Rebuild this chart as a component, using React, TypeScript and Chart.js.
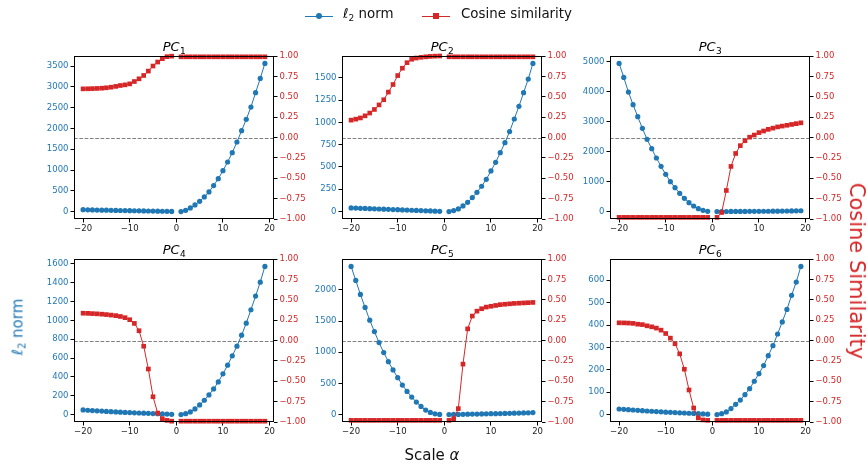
import React, { useEffect, useRef } from "react";
import { Chart, registerables } from "chart.js";

Chart.register(...registerables);

// ---------- data ----------
const ALPHA = [-20, -19, -18, -17, -16, -15, -14, -13, -12, -11, -10, -9, -8, -7, -6, -5, -4, -3, -2, -1, 0, 1, 2, 3, 4, 5, 6, 7, 8, 9, 10, 11, 12, 13, 14, 15, 16, 17, 18, 19];

const PC1_NORM = [45, 42, 40, 37, 35, 33, 30, 28, 26, 24, 22, 20, 18, 16, 14, 12, 10, 8, 6, 4, null, 0, 30, 88, 160, 248, 352, 473, 625, 793, 985, 1194, 1418, 1675, 1947, 2220, 2516, 2861, 3205, 3566];
const PC1_COS = [0.597, 0.598, 0.6, 0.602, 0.605, 0.61, 0.617, 0.627, 0.638, 0.646, 0.658, 0.687, 0.72, 0.761, 0.815, 0.877, 0.926, 0.967, 0.992, 0.998, null, 0.99, 0.99, 0.99, 0.99, 0.99, 0.99, 0.99, 0.99, 0.99, 0.99, 0.99, 0.99, 0.99, 0.99, 0.99, 0.99, 0.99, 0.99, 0.99];

const PC2_NORM = [41, 39, 37, 35, 33, 31, 29, 27, 25, 23, 21, 19, 17, 15, 13, 11, 9, 7, 5, 3, null, 0, 11, 30, 63, 104, 157, 216, 284, 362, 455, 552, 660, 772, 896, 1037, 1179, 1332, 1485, 1660];
const PC2_COS = [0.213, 0.225, 0.24, 0.266, 0.3, 0.344, 0.4, 0.463, 0.557, 0.65, 0.76, 0.85, 0.918, 0.96, 0.975, 0.984, 0.99, 0.995, 0.998, 1.0, null, 0.99, 0.99, 0.99, 0.99, 0.99, 0.99, 0.99, 0.99, 0.99, 0.99, 0.99, 0.99, 0.99, 0.99, 0.99, 0.99, 0.99, 0.99, 0.99];

const PC3_NORM = [4944, 4478, 3989, 3567, 3167, 2778, 2411, 2100, 1789, 1511, 1244, 1000, 800, 611, 444, 300, 189, 100, 44, 11, null, 2, 3, 5, 6, 7, 8, 9, 10, 11, 12, 13, 14, 15, 17, 19, 21, 23, 26, 30];
const PC3_COS = [-0.98, -0.98, -0.98, -0.98, -0.98, -0.98, -0.98, -0.98, -0.98, -0.98, -0.98, -0.98, -0.98, -0.98, -0.98, -0.98, -0.98, -0.98, -0.98, -0.98, null, -0.98, -0.92, -0.65, -0.355, -0.196, -0.1, -0.04, 0.004, 0.03, 0.06, 0.08, 0.1, 0.115, 0.13, 0.14, 0.15, 0.16, 0.17, 0.18];

const PC4_NORM = [50, 46, 43, 40, 37, 34, 31, 28, 26, 23, 21, 19, 17, 15, 13, 11, 9, 7, 5, 3, null, 0, 10, 28, 60, 103, 152, 209, 272, 347, 432, 524, 623, 726, 842, 970, 1112, 1257, 1405, 1572];
const PC4_COS = [0.335, 0.333, 0.33, 0.327, 0.323, 0.318, 0.312, 0.305, 0.295, 0.28, 0.255, 0.21, 0.12, -0.07, -0.35, -0.69, -0.89, -0.96, -0.98, -0.99, null, -0.99, -0.99, -0.99, -0.99, -0.99, -0.99, -0.99, -0.99, -0.99, -0.99, -0.99, -0.99, -0.99, -0.99, -0.99, -0.99, -0.99, -0.99, -0.99];

const PC5_NORM = [2374, 2150, 1925, 1717, 1513, 1332, 1155, 995, 850, 717, 594, 476, 374, 283, 203, 134, 75, 37, 16, 5, null, 3, 5, 6, 8, 9, 11, 12, 14, 15, 17, 18, 20, 22, 24, 26, 28, 30, 32, 35];
const PC5_COS = [-0.98, -0.98, -0.98, -0.98, -0.98, -0.98, -0.98, -0.98, -0.98, -0.98, -0.98, -0.98, -0.98, -0.98, -0.98, -0.98, -0.98, -0.98, -0.98, -0.98, null, -0.98, -0.96, -0.836, -0.29, 0.143, 0.3, 0.36, 0.39, 0.41, 0.42, 0.43, 0.44, 0.445, 0.45, 0.455, 0.458, 0.461, 0.464, 0.467];

const PC6_NORM = [25, 23.5, 22, 20.5, 19, 17.5, 16, 15, 13.5, 12.5, 11, 10, 9, 8, 7, 6, 5, 4, 3, 2, null, 0, 4, 12, 27, 46, 65, 89, 116, 149, 183, 219, 263, 308, 360, 414, 470, 533, 592, 662];
const PC6_COS = [0.217, 0.216, 0.214, 0.21, 0.2, 0.195, 0.18, 0.168, 0.152, 0.127, 0.086, 0.029, -0.04, -0.164, -0.352, -0.607, -0.828, -0.95, -0.975, -0.98, null, -0.98, -0.98, -0.98, -0.98, -0.98, -0.98, -0.98, -0.98, -0.98, -0.98, -0.98, -0.98, -0.98, -0.98, -0.98, -0.98, -0.98, -0.98, -0.98];

const PANEL_SUBS = ["1", "2", "3", "4", "5", "6"];
const PANEL_NORMS = [PC1_NORM, PC2_NORM, PC3_NORM, PC4_NORM, PC5_NORM, PC6_NORM];
const PANEL_COSS = [PC1_COS, PC2_COS, PC3_COS, PC4_COS, PC5_COS, PC6_COS];
const NORM_STEPS = [500, 250, 1000, 200, 500, 100];
const COS_STEP = 0.25;
const X_STEP = 10;

const LEGEND_LABELS = ["norm", "Cosine similarity"];

// ---------- style ----------
const BLUE = "#1f77b4";
const RED = "#d62728";
const FONT = "'DejaVu Sans', 'Liberation Sans', sans-serif";
const PLOT_LEFT = [74, 342, 610];
const PLOT_TOP = [56, 259];
const PLOT_W = 200;
const PLOT_H = 163;
const SIDE = 50;
const TOP_PAD = 22;
const BOTTOM = 18;

const fmtMinus = (v: number, digits: number) => {
  const s = Math.abs(v).toFixed(digits);
  return (v < 0 && Math.abs(v) > 1e-9 ? "\u2212" : "") + s;
};

const stepTicks = (step: number) => (s: any) => {
  const t: { value: number }[] = [];
  const start = Math.ceil((s.min - 1e-9) / step) * step;
  for (let v = start; v <= s.max + 1e-9; v += step) {
    t.push({ value: Math.round(v * 1e6) / 1e6 });
  }
  s.ticks = t;
};

const framePlugin = {
  id: "frameAndTitle",
  beforeDatasetsDraw(chart: any) {
    const { ctx, chartArea } = chart;
    const y2 = chart.scales.y2;
    const y = y2.getPixelForValue(0);
    ctx.save();
    ctx.strokeStyle = "#808080";
    ctx.lineWidth = 1;
    ctx.setLineDash([3.7, 1.6]);
    ctx.beginPath();
    ctx.moveTo(chartArea.left, Math.round(y) + 0.5);
    ctx.lineTo(chartArea.right, Math.round(y) + 0.5);
    ctx.stroke();
    ctx.restore();
  },
  afterDraw(chart: any) {
    const { ctx, chartArea } = chart;
    ctx.save();
    ctx.strokeStyle = "#000";
    ctx.lineWidth = 1;
    ctx.strokeRect(
      Math.round(chartArea.left) + 0.5,
      Math.round(chartArea.top) + 0.5,
      Math.round(chartArea.right - chartArea.left) - 1,
      Math.round(chartArea.bottom - chartArea.top) - 1
    );
    const sub = chart.options.plugins.frameAndTitle.sub;
    ctx.fillStyle = "#000";
    ctx.textBaseline = "alphabetic";
    ctx.font = `italic 13px ${FONT}`;
    const w1 = ctx.measureText("PC").width;
    ctx.font = `9px ${FONT}`;
    const w2 = ctx.measureText(sub).width;
    const cx = (chartArea.left + chartArea.right) / 2;
    const x0 = cx - (w1 + w2) / 2;
    const base = chartArea.top - 5;
    ctx.font = `italic 13px ${FONT}`;
    ctx.fillText("PC", x0, base);
    ctx.font = `9px ${FONT}`;
    ctx.fillText(sub, x0 + w1 + 0.5, base + 3);
    ctx.restore();
  },
};

function Panel({ idx }: { idx: number }) {
  const ref = useRef<HTMLCanvasElement | null>(null);
  useEffect(() => {
    if (!ref.current) return;
    const norm = PANEL_NORMS[idx];
    const cos = PANEL_COSS[idx];
    const vals = norm.filter((v) => v !== null) as number[];
    const lo = Math.min(...vals);
    const hi = Math.max(...vals);
    const pad = 0.05 * (hi - lo);
    const xlo = Math.min(...ALPHA);
    const xhi = Math.max(...ALPHA);
    const xpad = 0.05 * (xhi - xlo);
    const tickFont = { family: FONT, size: 8.5 };
    const gridCfg = {
      display: true,
      drawOnChartArea: false,
      drawTicks: true,
      tickLength: 3.5,
      tickColor: "#000",
      tickWidth: 1,
    };
    const chart = new Chart(ref.current, {
      type: "line",
      data: {
        datasets: [
          {
            label: "l2 norm",
            data: ALPHA.map((a, i) => ({ x: a, y: norm[i] })),
            borderColor: BLUE,
            backgroundColor: BLUE,
            borderWidth: 1,
            pointRadius: 2.6,
            pointStyle: "circle",
            pointBorderWidth: 0,
            pointBackgroundColor: BLUE,
            yAxisID: "y",
            spanGaps: false,
            clip: false as any,
            order: 2,
          },
          {
            label: "Cosine similarity",
            data: ALPHA.map((a, i) => ({ x: a, y: cos[i] })),
            borderColor: RED,
            backgroundColor: RED,
            borderWidth: 1,
            pointRadius: 3.3,
            pointStyle: "rect",
            pointBorderWidth: 0,
            pointBackgroundColor: RED,
            yAxisID: "y2",
            spanGaps: false,
            clip: false as any,
            order: 1,
          },
        ],
      },
      options: {
        responsive: false,
        animation: false,
        devicePixelRatio: 1,
        layout: { padding: { top: TOP_PAD, left: 0, right: 0, bottom: 0 } },
        plugins: {
          legend: { display: false },
          tooltip: { enabled: false },
          title: { display: false },
          frameAndTitle: { sub: PANEL_SUBS[idx] },
        } as any,
        elements: { line: { tension: 0 } },
        scales: {
          x: {
            type: "linear",
            min: xlo - xpad,
            max: xhi + xpad,
            ticks: {
              font: tickFont,
              color: "#222",
              padding: 1,
              maxRotation: 0,
              callback: (v: any) => fmtMinus(Number(v), 0),
            },
            grid: gridCfg,
            border: { display: false },
            afterBuildTicks: stepTicks(X_STEP),
            afterFit: (s: any) => {
              s.height = BOTTOM;
            },
          },
          y: {
            type: "linear",
            position: "left",
            min: lo - pad,
            max: hi + pad,
            ticks: {
              font: tickFont,
              color: BLUE,
              padding: 2,
              callback: (v: any) => fmtMinus(Number(v), 0),
            },
            grid: gridCfg,
            border: { display: false },
            afterBuildTicks: stepTicks(NORM_STEPS[idx]),
            afterFit: (s: any) => {
              s.width = SIDE;
            },
          },
          y2: {
            type: "linear",
            position: "right",
            min: -1,
            max: 1,
            ticks: {
              font: tickFont,
              color: RED,
              padding: 2,
              callback: (v: any) => fmtMinus(Number(v), 2),
            },
            grid: gridCfg,
            border: { display: false },
            afterBuildTicks: stepTicks(COS_STEP),
            afterFit: (s: any) => {
              s.width = SIDE;
            },
          },
        },
      } as any,
      plugins: [framePlugin],
    });
    return () => chart.destroy();
  }, [idx]);

  const col = idx % 3;
  const row = Math.floor(idx / 3);
  const w = PLOT_W + 2 * SIDE;
  const h = PLOT_H + TOP_PAD + BOTTOM;
  return (
    <canvas
      ref={ref}
      width={w}
      height={h}
      style={{
        position: "absolute",
        left: PLOT_LEFT[col] - SIDE,
        top: PLOT_TOP[row] - TOP_PAD,
        width: w,
        height: h,
      }}
    />
  );
}

function LegendSymbol({ color, square }: { color: string; square: boolean }) {
  return (
    <span style={{ position: "relative", display: "inline-block", width: 28, height: 14 }}>
      <span
        style={{
          position: "absolute",
          left: 0,
          right: 0,
          top: 6.5,
          height: 1.3,
          background: color,
        }}
      />
      <span
        style={{
          position: "absolute",
          left: 11,
          top: 4,
          width: 6,
          height: 6,
          borderRadius: square ? 0 : 3,
          background: color,
        }}
      />
    </span>
  );
}

export default function App() {
  return (
    <div
      style={{
        position: "fixed",
        left: 0,
        top: 0,
        width: 867,
        height: 466,
        background: "#fff",
        fontFamily: FONT,
        overflow: "hidden",
      }}
    >
      {[0, 1, 2, 3, 4, 5].map((i) => (
        <Panel key={i} idx={i} />
      ))}

      {/* legend */}
      <div style={{ position: "absolute", left: 305, top: 8 }}>
        <LegendSymbol color={BLUE} square={false} />
      </div>
      <div style={{ position: "absolute", left: 343, top: 5, fontSize: 13.4, color: "#111", whiteSpace: "nowrap", lineHeight: "18px" }}>
        <i>ℓ</i>
        <sub style={{ fontSize: 9, verticalAlign: "-3px" }}>2</sub> {LEGEND_LABELS[0]}
      </div>
      <div style={{ position: "absolute", left: 422, top: 8 }}>
        <LegendSymbol color={RED} square={true} />
      </div>
      <div style={{ position: "absolute", left: 461, top: 5, fontSize: 13.4, color: "#111", whiteSpace: "nowrap", lineHeight: "18px" }}>
        {LEGEND_LABELS[1]}
      </div>

      {/* axis labels */}
      <div
        style={{
          position: "absolute",
          left: 432,
          top: 455,
          transform: "translate(-50%, -50%)",
          fontSize: 15,
          color: "#111",
          whiteSpace: "nowrap",
        }}
      >
        Scale <i>α</i>
      </div>
      <div
        style={{
          position: "absolute",
          left: 18,
          top: 327,
          transform: "translate(-50%, -50%) rotate(-90deg)",
          fontSize: 15,
          color: BLUE,
          whiteSpace: "nowrap",
        }}
      >
        <i>ℓ</i>
        <sub style={{ fontSize: 10, verticalAlign: "-3px" }}>2</sub> norm
      </div>
      <div
        style={{
          position: "absolute",
          left: 857,
          top: 271,
          transform: "translate(-50%, -50%) rotate(90deg)",
          fontSize: 21,
          color: RED,
          whiteSpace: "nowrap",
        }}
      >
        Cosine Similarity
      </div>
    </div>
  );
}
